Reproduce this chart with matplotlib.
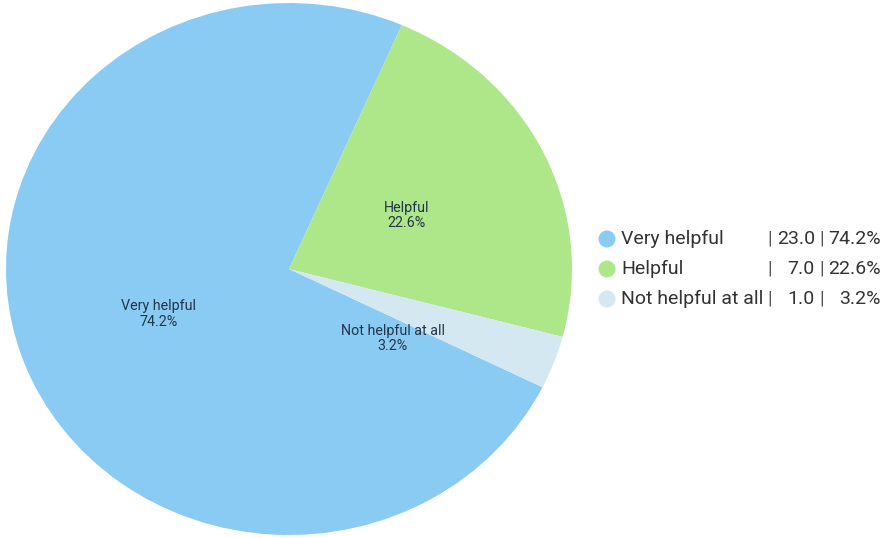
import matplotlib.pyplot as plt
from matplotlib.patches import Ellipse
import numpy as np

categories = ["Very helpful", "Helpful", "Not helpful at all"]
counts = [23.0, 7.0, 1.0]
percents = [74.2, 22.6, 3.2]
colors = ["#89CBF3", "#AEE68A", "#D3E8F0"]

plt.rcParams['font.family'] = ['Roboto', 'DejaVu Sans']

W, H = 884, 538
fig = plt.figure(figsize=(W / 100, H / 100), dpi=100)
fig.patch.set_facecolor("white")

# pie axes (slightly wider than tall, so the pie is stretched horizontally)
ax = fig.add_axes([6 / W, 3 / H, 566 / W, 532 / H])
wedges, _ = ax.pie(counts, colors=colors, startangle=-26.4, counterclock=False,
                   wedgeprops=dict(linewidth=0))
ax.set_aspect('auto')
ax.set_xlim(-1, 1)
ax.set_ylim(-1, 1)
ax.axis('off')

# in-slice labels, placed along each wedge's bisector
label_r = [0.49, 0.46, 0.45]
label_shift = [0.0, 0.0, -15.0]
for w, name, pct, r, sh in zip(wedges, categories, percents, label_r, label_shift):
    ang = np.deg2rad((w.theta1 + w.theta2) / 2 + sh)
    ax.text(r * np.cos(ang), r * np.sin(ang), f"{name}\n{pct:.1f}%",
            ha='center', va='center', fontsize=10.3, color='#22354a', linespacing=1.15)

# legend drawn as columns: marker | name | count | percent
row_y = [239, 269, 299]
for y, name, c, pct, col in zip(row_y, categories, counts, percents, colors):
    fy = 1 - y / H
    fig.patches.append(Ellipse((607 / W, fy), 17 / W, 17 / H, transform=fig.transFigure,
                               facecolor=col, edgecolor='none'))
    fig.text(621 / W, fy, name, ha='left', va='center', fontsize=14, color='#333333')
    fig.text(770 / W, fy, "|", ha='center', va='center', fontsize=14, color='#555555')
    fig.text(815 / W, fy, f"{c:.1f}", ha='right', va='center', fontsize=14, color='#333333')
    fig.text(822 / W, fy, "|", ha='center', va='center', fontsize=14, color='#555555')
    fig.text(881 / W, fy, f"{pct:.1f}%", ha='right', va='center', fontsize=14, color='#333333')

fig.savefig("out.png", dpi=100, facecolor="white")
